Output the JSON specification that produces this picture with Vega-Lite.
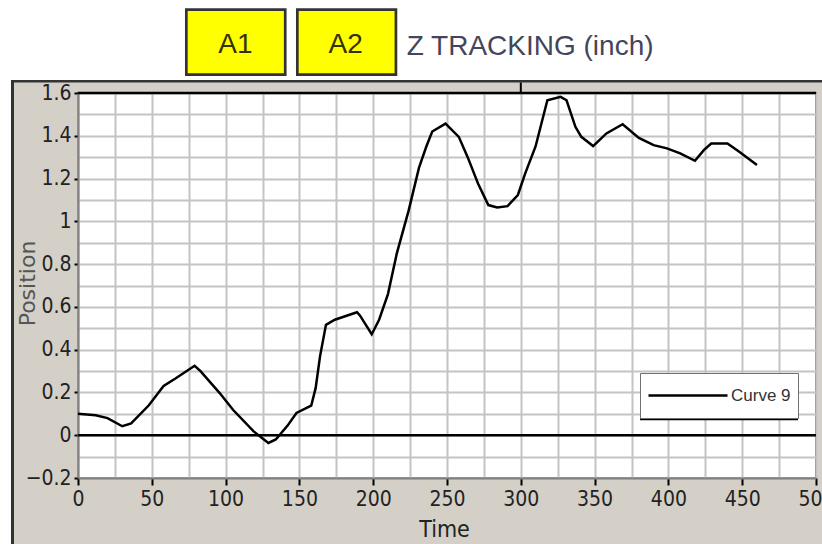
{
  "$schema": "https://vega.github.io/schema/vega-lite/v6.json",
  "width": 738,
  "height": 385,
  "autosize": {"type": "none"},
  "padding": {"left": 78, "top": 93, "right": 6, "bottom": 66},
  "background": "#d4d0c8",
  "config": {"view": {"stroke": "#808080", "strokeWidth": 2, "fill": "white"}},
  "resolve": {"axis": {"x": "independent", "y": "independent"}},
  "data": {"values": [
    {"Time": 0, "Position": 0.10},
    {"Time": 12, "Position": 0.093},
    {"Time": 20, "Position": 0.08},
    {"Time": 30, "Position": 0.042},
    {"Time": 36, "Position": 0.055},
    {"Time": 48, "Position": 0.14},
    {"Time": 58, "Position": 0.23},
    {"Time": 66, "Position": 0.265},
    {"Time": 79, "Position": 0.325},
    {"Time": 83, "Position": 0.30},
    {"Time": 96, "Position": 0.197},
    {"Time": 105, "Position": 0.119},
    {"Time": 119, "Position": 0.018},
    {"Time": 129, "Position": -0.036},
    {"Time": 134, "Position": -0.02},
    {"Time": 142, "Position": 0.045},
    {"Time": 148, "Position": 0.104},
    {"Time": 158, "Position": 0.138},
    {"Time": 161, "Position": 0.22},
    {"Time": 164, "Position": 0.37},
    {"Time": 168, "Position": 0.516},
    {"Time": 174, "Position": 0.54},
    {"Time": 189, "Position": 0.575},
    {"Time": 191, "Position": 0.56},
    {"Time": 199, "Position": 0.472},
    {"Time": 204, "Position": 0.54},
    {"Time": 210, "Position": 0.66},
    {"Time": 216, "Position": 0.85},
    {"Time": 224, "Position": 1.05},
    {"Time": 231, "Position": 1.25},
    {"Time": 236, "Position": 1.35},
    {"Time": 240, "Position": 1.42},
    {"Time": 249, "Position": 1.457},
    {"Time": 258, "Position": 1.395},
    {"Time": 264, "Position": 1.30},
    {"Time": 271, "Position": 1.177},
    {"Time": 278, "Position": 1.076},
    {"Time": 284, "Position": 1.065},
    {"Time": 291, "Position": 1.071},
    {"Time": 298, "Position": 1.123},
    {"Time": 303, "Position": 1.224},
    {"Time": 310, "Position": 1.35},
    {"Time": 318, "Position": 1.566},
    {"Time": 327, "Position": 1.582},
    {"Time": 331, "Position": 1.566},
    {"Time": 337, "Position": 1.442},
    {"Time": 341, "Position": 1.395},
    {"Time": 349, "Position": 1.352},
    {"Time": 358, "Position": 1.411},
    {"Time": 369, "Position": 1.454},
    {"Time": 380, "Position": 1.39},
    {"Time": 390, "Position": 1.356},
    {"Time": 399, "Position": 1.341},
    {"Time": 408, "Position": 1.318},
    {"Time": 418, "Position": 1.283},
    {"Time": 424, "Position": 1.333},
    {"Time": 429, "Position": 1.364},
    {"Time": 440, "Position": 1.364},
    {"Time": 448, "Position": 1.325},
    {"Time": 460, "Position": 1.263}
  ]},
  "layer": [
    {
      "data": {"values": [{}]},
      "mark": {"type": "rect", "fill": "white", "clip": false},
      "encoding": {
        "x": {"datum": -60, "type": "quantitative", "scale": {"domain": [0, 500], "nice": false, "zero": false}, "axis": null},
        "x2": {"datum": 560},
        "y": {"datum": 1.6608, "type": "quantitative", "scale": {"domain": [-0.2, 1.6], "nice": false, "zero": false}, "axis": null},
        "y2": {"datum": 2.2}
      }
    },
    {
      "data": {"values": [{}]},
      "mark": {"type": "rect", "fill": "white", "clip": false},
      "encoding": {
        "x": {"datum": -60, "type": "quantitative", "scale": {"domain": [0, 500], "nice": false, "zero": false}, "axis": null},
        "x2": {"datum": -45.4},
        "y": {"datum": -0.8, "type": "quantitative", "scale": {"domain": [-0.2, 1.6], "nice": false, "zero": false}, "axis": null},
        "y2": {"datum": 1.6608}
      }
    },
    {
      "data": {"values": [{}]},
      "mark": {"type": "rect", "fill": "#333333", "clip": false},
      "encoding": {
        "x": {"datum": -45.4, "type": "quantitative", "scale": {"domain": [0, 500], "nice": false, "zero": false}, "axis": null},
        "x2": {"datum": 560},
        "y": {"datum": 1.6491, "type": "quantitative", "scale": {"domain": [-0.2, 1.6], "nice": false, "zero": false}, "axis": null},
        "y2": {"datum": 1.6608}
      }
    },
    {
      "data": {"values": [{}]},
      "mark": {"type": "rect", "fill": "#333333", "clip": false},
      "encoding": {
        "x": {"datum": -45.4, "type": "quantitative", "scale": {"domain": [0, 500], "nice": false, "zero": false}, "axis": null},
        "x2": {"datum": -43.36},
        "y": {"datum": -0.8, "type": "quantitative", "scale": {"domain": [-0.2, 1.6], "nice": false, "zero": false}, "axis": null},
        "y2": {"datum": 1.6608}
      }
    },
    {
      "data": {"values": [{}]},
      "mark": {"type": "rect", "fill": "#ffff00", "stroke": "#333333", "strokeWidth": 2.7, "clip": false},
      "encoding": {
        "x": {"datum": 73.4, "type": "quantitative", "scale": {"domain": [0, 500], "nice": false, "zero": false}, "axis": null},
        "x2": {"datum": 140.4},
        "y": {"datum": 1.6856, "type": "quantitative", "scale": {"domain": [-0.2, 1.6], "nice": false, "zero": false}, "axis": null},
        "y2": {"datum": 1.99}
      }
    },
    {
      "data": {"values": [{}]},
      "mark": {"type": "rect", "fill": "#ffff00", "stroke": "#333333", "strokeWidth": 2.7, "clip": false},
      "encoding": {
        "x": {"datum": 148.6, "type": "quantitative", "scale": {"domain": [0, 500], "nice": false, "zero": false}, "axis": null},
        "x2": {"datum": 215.4},
        "y": {"datum": 1.6856, "type": "quantitative", "scale": {"domain": [-0.2, 1.6], "nice": false, "zero": false}, "axis": null},
        "y2": {"datum": 1.99}
      }
    },
    {
      "data": {"values": [{"label": "A1"}]},
      "mark": {"type": "text", "font": "Liberation Sans", "fontSize": 28, "color": "#333300", "align": "center", "baseline": "alphabetic", "clip": false},
      "encoding": {
        "x": {"datum": 106.7, "type": "quantitative", "scale": {"domain": [0, 500], "nice": false, "zero": false}, "axis": null},
        "y": {"datum": 1.787, "type": "quantitative", "scale": {"domain": [-0.2, 1.6], "nice": false, "zero": false}, "axis": null},
        "text": {"field": "label"}
      }
    },
    {
      "data": {"values": [{"label": "A2"}]},
      "mark": {"type": "text", "font": "Liberation Sans", "fontSize": 28, "color": "#333300", "align": "center", "baseline": "alphabetic", "clip": false},
      "encoding": {
        "x": {"datum": 181.4, "type": "quantitative", "scale": {"domain": [0, 500], "nice": false, "zero": false}, "axis": null},
        "y": {"datum": 1.787, "type": "quantitative", "scale": {"domain": [-0.2, 1.6], "nice": false, "zero": false}, "axis": null},
        "text": {"field": "label"}
      }
    },
    {
      "data": {"values": [{"label": "Z TRACKING (inch)"}]},
      "mark": {"type": "text", "font": "Liberation Sans", "fontSize": 28, "color": "#45455a", "align": "left", "baseline": "alphabetic", "clip": false},
      "encoding": {
        "x": {"datum": 222.7, "type": "quantitative", "scale": {"domain": [0, 500], "nice": false, "zero": false}, "axis": null},
        "y": {"datum": 1.7777, "type": "quantitative", "scale": {"domain": [-0.2, 1.6], "nice": false, "zero": false}, "axis": null},
        "text": {"field": "label"}
      }
    },
    {
      "data": {"values": [{}]},
      "mark": {"type": "rule", "color": "black", "strokeWidth": 2.5, "clip": false},
      "encoding": {
        "x": {"datum": 0, "type": "quantitative", "scale": {"domain": [0, 500], "nice": false, "zero": false}, "axis": null},
        "x2": {"datum": 500},
        "y": {"datum": 1.6, "type": "quantitative", "scale": {"domain": [-0.2, 1.6], "nice": false, "zero": false}, "axis": null}
      }
    },
    {
      "data": {"values": [{}]},
      "mark": {"type": "rule", "color": "black", "strokeWidth": 2, "clip": false},
      "encoding": {
        "x": {"datum": 300, "type": "quantitative", "scale": {"domain": [0, 500], "nice": false, "zero": false}, "axis": null},
        "y": {"datum": 1.6, "type": "quantitative", "scale": {"domain": [-0.2, 1.6], "nice": false, "zero": false}, "axis": null},
        "y2": {"datum": 1.6491}
      }
    },
    {
      "data": {"values": [{}]},
      "mark": {"type": "rule", "color": "black", "strokeWidth": 2.5},
      "encoding": {
        "x": {"datum": 0, "type": "quantitative", "scale": {"domain": [0, 500], "nice": false, "zero": false}, "axis": null},
        "x2": {"datum": 500},
        "y": {"datum": 0, "type": "quantitative", "scale": {"domain": [-0.2, 1.6], "nice": false, "zero": false}, "axis": null}
      }
    },
    {
      "mark": {"type": "line", "strokeWidth": 2.5},
      "encoding": {
        "x": {
          "field": "Time", "type": "quantitative",
          "scale": {"domain": [0, 500], "nice": false, "zero": false},
          "axis": {
            "orient": "bottom",
            "title": "Time",
            "values": [0, 25, 50, 75, 100, 125, 150, 175, 200, 225, 250, 275, 300, 325, 350, 375, 400, 425, 450, 475, 500],
            "grid": true, "gridColor": "#c4c4c4", "gridWidth": 2,
            "labelExpr": "datum.value % 50 === 0 ? datum.label : ''",
            "labelFont": "Liberation Sans Narrow, Arial Narrow, DejaVu Sans Condensed, sans-serif",
            "labelFontSize": 21, "labelColor": "#222222", "labelPadding": 3,
            "labelFlush": false, "labelOverlap": false,
            "tickColor": "black", "tickWidth": 2, "tickSize": 7,
            "tickOpacity": {"condition": {"test": "datum.value % 50 === 0", "value": 1}, "value": 0},
            "domainColor": "#808080", "domainWidth": 2,
            "titleFont": "Liberation Sans Narrow, Arial Narrow, DejaVu Sans Condensed, sans-serif",
            "titleFontSize": 23, "titleFontWeight": "normal", "titleColor": "#222222",
            "titleX": 366, "titleY": 51, "titleAlign": "center", "titleBaseline": "middle"
          }
        },
        "y": {
          "field": "Position", "type": "quantitative",
          "scale": {"domain": [-0.2, 1.6], "nice": false, "zero": false},
          "axis": {
            "orient": "left",
            "title": "Position",
            "values": [-0.2, -0.1, 0, 0.1, 0.2, 0.3, 0.4, 0.5, 0.6, 0.7, 0.8, 0.9, 1, 1.1, 1.2, 1.3, 1.4, 1.5, 1.6],
            "grid": true, "gridColor": "#c4c4c4", "gridWidth": 2,
            "labelExpr": "round(datum.value * 10) % 2 === 0 ? format(datum.value, '~g') : ''",
            "labelFont": "Liberation Sans Narrow, Arial Narrow, DejaVu Sans Condensed, sans-serif",
            "labelFontSize": 21, "labelColor": "#222222", "labelPadding": 3,
            "labelFlush": false, "labelOverlap": false,
            "tickColor": "black", "tickWidth": 2, "tickSize": 4,
            "tickOpacity": {"condition": {"test": "round(datum.value * 10) % 2 === 0", "value": 1}, "value": 0},
            "domainColor": "#808080", "domainWidth": 2,
            "titleFont": "DejaVu Sans", "titleFontSize": 22, "titleFontWeight": "normal", "titleColor": "#555555",
            "titleX": -50.5, "titleY": 190, "titleAngle": 270, "titleAlign": "center", "titleBaseline": "middle"
          }
        },
        "stroke": {
          "datum": "Curve 9", "type": "nominal",
          "scale": {"range": ["black"]},
          "legend": {
            "title": null, "orient": "none", "legendX": 562, "legendY": 280,
            "symbolType": "stroke", "symbolSize": 6241, "symbolStrokeWidth": 2.5,
            "labelFont": "Liberation Sans", "labelFontSize": 17, "labelColor": "#333333", "labelOffset": 2,
            "padding": 7, "strokeColor": "#707070", "fillColor": "white", "clipHeight": 31
          }
        }
      }
    },
    {
      "data": {"values": [{}]},
      "mark": {"type": "rule", "color": "black", "strokeWidth": 2.5},
      "encoding": {
        "x": {"datum": 380.8, "type": "quantitative", "scale": {"domain": [0, 500], "nice": false, "zero": false}, "axis": null},
        "x2": {"datum": 487.8},
        "y": {"datum": 0.0755, "type": "quantitative", "scale": {"domain": [-0.2, 1.6], "nice": false, "zero": false}, "axis": null}
      }
    }
  ]
}
